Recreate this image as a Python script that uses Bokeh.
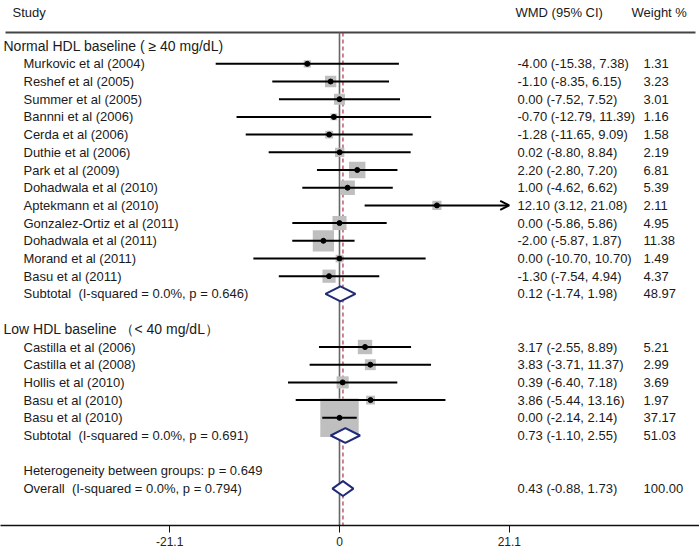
import numpy as np
from bokeh.plotting import figure
from bokeh.models import Range1d, ColumnDataSource, FixedTicker, Arrow, OpenHead
from bokeh.core.properties import value
from bokeh.embed import file_html
from bokeh.resources import INLINE

# ---------------- data ----------------
g1_title = "Normal HDL baseline ( \u2265 40 mg/dL)"
g1_names = ["Murkovic et al (2004)", "Reshef et al (2005)", "Summer et al (2005)",
            "Bannni et al (2006)", "Cerda et al (2006)", "Duthie et al (2006)",
            "Park et al (2009)", "Dohadwala et al (2010)", "Aptekmann et al (2010)",
            "Gonzalez-Ortiz et al (2011)", "Dohadwala et al (2011)", "Morand et al (2011)",
            "Basu et al (2011)"]
g1_wmd = [-4.00, -1.10, 0.00, -0.70, -1.28, 0.02, 2.20, 1.00, 12.10, 0.00, -2.00, 0.00, -1.30]
g1_lo = [-15.38, -8.35, -7.52, -12.79, -11.65, -8.80, -2.80, -4.62, 3.12, -5.86, -5.87, -10.70, -7.54]
g1_hi = [7.38, 6.15, 7.52, 11.39, 9.09, 8.84, 7.20, 6.62, 21.08, 5.86, 1.87, 10.70, 4.94]
g1_w = [1.31, 3.23, 3.01, 1.16, 1.58, 2.19, 6.81, 5.39, 2.11, 4.95, 11.38, 1.49, 4.37]
g1_sub_label = "Subtotal \u00a0(I-squared = 0.0%, p = 0.646)"
g1_sub = [0.12, -1.74, 1.98, 48.97]

g2_title = "Low HDL baseline \uff08< 40 mg/dL\uff09"
g2_names = ["Castilla et al (2006)", "Castilla et al (2008)", "Hollis et al (2010)",
            "Basu et al (2010)", "Basu et al (2010)"]
g2_wmd = [3.17, 3.83, 0.39, 3.86, 0.00]
g2_lo = [-2.55, -3.71, -6.40, -5.44, -2.14]
g2_hi = [8.89, 11.37, 7.18, 13.16, 2.14]
g2_w = [5.21, 2.99, 3.69, 1.97, 37.17]
g2_sub_label = "Subtotal \u00a0(I-squared = 0.0%, p = 0.691)"
g2_sub = [0.73, -1.10, 2.55, 51.03]

het_label = "Heterogeneity between groups: p = 0.649"
overall_label = "Overall \u00a0(I-squared = 0.0%, p = 0.794)"
overall = [0.43, -0.88, 1.73, 100.00]

axis_ticks = [-21.1, 0, 21.1]
axis_tick_labels = ["-21.1", "0", "21.1"]
arrow_limit = 21.1

# ---------------- layout helpers ----------------
W, H = 699, 555
AXIS_PX = 525
ZERO_PX = 339.0
PX_PER_UNIT = 8.05
ROW0_PX = 45.6
ROW_PX = 17.7


def px_x(ix):
    return (ix - ZERO_PX) / PX_PER_UNIT


def px_row(iy):
    return (iy - ROW0_PX) / ROW_PX


FONT = value("Liberation Sans")
TXT = "#1a1a1a"

# build rows
studies = []   # (row, name, wmd, lo, hi, w)
headers = []   # (row, text)
subs = []      # (row, label, est, lo, hi, w)
r = 0
for title, names, wmd, lo, hi, w, slab, sub in [
        (g1_title, g1_names, g1_wmd, g1_lo, g1_hi, g1_w, g1_sub_label, g1_sub),
        (g2_title, g2_names, g2_wmd, g2_lo, g2_hi, g2_w, g2_sub_label, g2_sub)]:
    headers.append((r, title))
    r += 1
    for i in range(len(names)):
        studies.append((r, names[i], wmd[i], lo[i], hi[i], w[i]))
        r += 1
    subs.append((r, slab) + tuple(sub))
    r += 2
het_row = r
overall_row = r + 1
subs.append((overall_row, overall_label) + tuple(overall))

row_top = px_row(0)
row_axis = px_row(AXIS_PX)
line_row = px_row(32)

p = figure(width=W, height=H, output_backend="svg", toolbar_location=None,
           x_range=Range1d(px_x(0), px_x(W)),
           y_range=Range1d(row_axis, row_top),
           y_axis_location=None, min_border_left=0, min_border_right=0,
           min_border_top=0, min_border_bottom=H - AXIS_PX)
p.grid.visible = False
p.outline_line_color = None
p.background_fill_color = "white"

# header line
p.segment(x0=[px_x(5)], y0=[line_row], x1=[px_x(695)], y1=[line_row],
          line_color="#444444", line_width=2)

# zero line and overall dashed line
p.segment(x0=[0], y0=[line_row], x1=[0], y1=[row_axis], line_color="#666666", line_width=1.6)
p.segment(x0=[overall[0]], y0=[line_row], x1=[overall[0]], y1=[row_axis],
          line_color="#b03048", line_width=1.2, line_dash="4 3")

# study boxes, CIs, dots
s_rows = [s[0] for s in studies]
s_wmd = [s[2] for s in studies]
s_lo = [s[3] for s in studies]
s_hi = [s[4] for s in studies]
s_w = [s[5] for s in studies]
box_size = [6.3 * np.sqrt(w) for w in s_w]
src = ColumnDataSource(dict(y=s_rows, x=s_wmd, lo=s_lo, hi=s_hi, size=box_size))
p.scatter(x="x", y="y", size="size", marker="square", source=src,
          fill_color="#bfbfbf", line_color=None)

normal = [i for i in range(len(studies)) if s_hi[i] < arrow_limit - 0.05]
arrowed = [i for i in range(len(studies)) if i not in normal]
p.segment(x0=[s_lo[i] for i in normal], y0=[s_rows[i] for i in normal],
          x1=[s_hi[i] for i in normal], y1=[s_rows[i] for i in normal],
          line_color="black", line_width=2)
asrc = ColumnDataSource(dict(x0=[s_lo[i] for i in arrowed], y=[s_rows[i] for i in arrowed],
                             x1=[s_hi[i] for i in arrowed]))
p.add_layout(Arrow(end=OpenHead(size=9, line_width=2, line_color="black"),
                   x_start="x0", y_start="y", x_end="x1", y_end="y",
                   line_width=2, line_color="black", source=asrc))
p.scatter(x="x", y="y", size=5, marker="circle", source=src,
          fill_color="black", line_color="black")

# diamonds
h = 0.42
dxs = [[s[3], s[2], s[4], s[2]] for s in subs]
dys = [[s[0], s[0] - h, s[0], s[0] + h] for s in subs]
p.patches(xs=dxs, ys=dys, fill_color="white", line_color="#1f2a78", line_width=2)

# ---------------- texts ----------------
def txt(xs, ys, texts, size="13px"):
    p.text(x=xs, y=ys, text=texts, text_font=FONT, text_font_size=size,
           text_color=TXT, text_baseline="middle", text_align="left")

hdr_row = px_row(12)
txt([px_x(12)], [hdr_row], ["Study"])
txt([px_x(515)], [hdr_row], ["WMD (95% CI)"])
txt([px_x(631)], [hdr_row], ["Weight %"])

txt([px_x(3)] * len(headers), [hh[0] for hh in headers], [hh[1] for hh in headers], "14px")

name_x = px_x(23)
txt([name_x] * len(studies), s_rows, [s[1] for s in studies])
txt([name_x] * len(subs), [s[0] for s in subs], [s[1] for s in subs])
txt([name_x], [het_row], [het_label])

all_rows = s_rows + [s[0] for s in subs]
all_est = s_wmd + [s[2] for s in subs]
all_lo = s_lo + [s[3] for s in subs]
all_hi = s_hi + [s[4] for s in subs]
all_w = s_w + [s[5] for s in subs]
ci_text = ["%.2f (%.2f, %.2f)" % (e, l, u) for e, l, u in zip(all_est, all_lo, all_hi)]
w_text = ["%.2f" % w for w in all_w]
txt([px_x(517)] * len(all_rows), all_rows, ci_text)
txt([px_x(643)] * len(all_rows), all_rows, w_text)

# ---------------- axis ----------------
ax = p.xaxis[0]
ax.ticker = FixedTicker(ticks=axis_ticks)
ax.major_label_overrides = {t: l for t, l in zip(axis_ticks, axis_tick_labels)}
ax.minor_tick_line_color = None
ax.major_tick_in = 0
ax.major_tick_out = 7
ax.major_label_standoff = 4
ax.axis_line_width = 1.6
ax.axis_line_color = "#111111"
ax.major_tick_line_color = "#111111"
ax.major_label_text_font = "Liberation Sans"
ax.major_label_text_font_size = "12px"
ax.major_label_text_color = "#222222"

open("out.html", "w").write(file_html(p, INLINE))
